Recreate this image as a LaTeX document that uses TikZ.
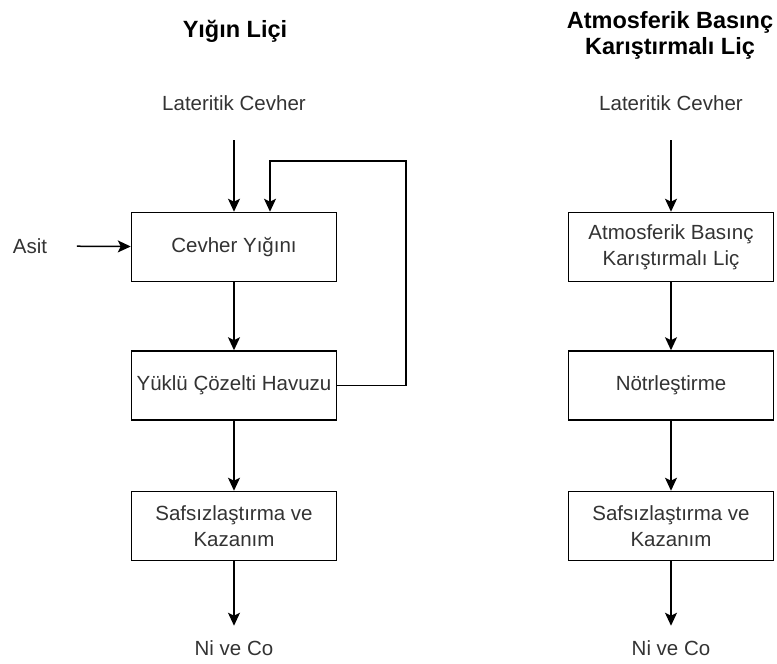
\documentclass[tikz,border=0pt]{standalone}
\usepackage{fontspec}
\setmainfont{Liberation Sans}
\usepackage{tikz}
\usetikzlibrary{arrows.meta}
\usetikzlibrary{positioning}

\begin{document}
\begin{tikzpicture}[>={Stealth[length=13pt,width=12pt,inset=3pt]}, ->, line width=1.5pt,
  every edge/.style={draw,->,line width=1.5pt},
  box/.style={rectangle,draw,line width=1.5pt,fill=white,minimum width=205pt,minimum height=69pt,inner sep=1pt,align=center,text=black!80,font=\fontsize{20.5}{26}\selectfont},
  plain/.style={inner sep=0pt,text=black!80,font=\fontsize{20.5}{26}\selectfont},
  title/.style={inner sep=0pt,align=center,font=\fontsize{23.5}{26}\selectfont\bfseries}]
	  \useasboundingbox (0,0) rectangle (777pt,-664pt);
	  % yigin lici
	  \node[title] (t1) at (235pt,-31pt) {Yığın Liçi};
	  \node[plain] (in1) at (234pt,-103pt) {Lateritik Cevher};
	  \node[plain] (acid) at (30pt,-246pt) {Asit};
	  \node[box] (heap) at (234pt,-247pt) {Cevher Yığını};
	  \node[box] (pond) [below = 68pt of heap] {Yüklü Çözelti Havuzu};
	  \node[box] (purif1) [below = 70pt of pond] {Safsızlaştırma ve\\Kazanım};
	  \node[plain] (out1) at (234pt,-648pt) {Ni ve Co};
	  \coordinate (loop) at (406pt,-161pt);
	  % atmosferik basinc
	  \node[title] (t2) at (670pt,-35pt) {Atmosferik Basınç\\Karıştırmalı Liç};
	  \node[plain] (in2) at (671pt,-103pt) {Lateritik Cevher};
	  \node[box] (leach) at (671pt,-247pt) {Atmosferik Basınç\\Karıştırmalı Liç};
	  \node[box] (neutr) [below = 68pt of leach] {Nötrleştirme};
	  \node[box] (purif2) [below = 70pt of neutr] {Safsızlaştırma ve\\Kazanım};
	  \node[plain] (out2) at (671pt,-648pt) {Ni ve Co};

	  \path
	    (in1) edge [shorten <=29pt] (heap)
	    (acid) edge [shorten <=29pt] (heap)
	    (heap) edge (pond)
	    (pond) edge (purif1)
	    (purif1) edge [shorten >=14pt] (out1)

	    (in2) edge [shorten <=29pt] (leach)
	    (leach) edge (neutr)
	    (neutr) edge (purif2)
	    (purif2) edge [shorten >=14pt] (out2);

	  \draw (pond.east) -| (loop) -| ([xshift=36pt]heap.north);
\end{tikzpicture}
\end{document}
